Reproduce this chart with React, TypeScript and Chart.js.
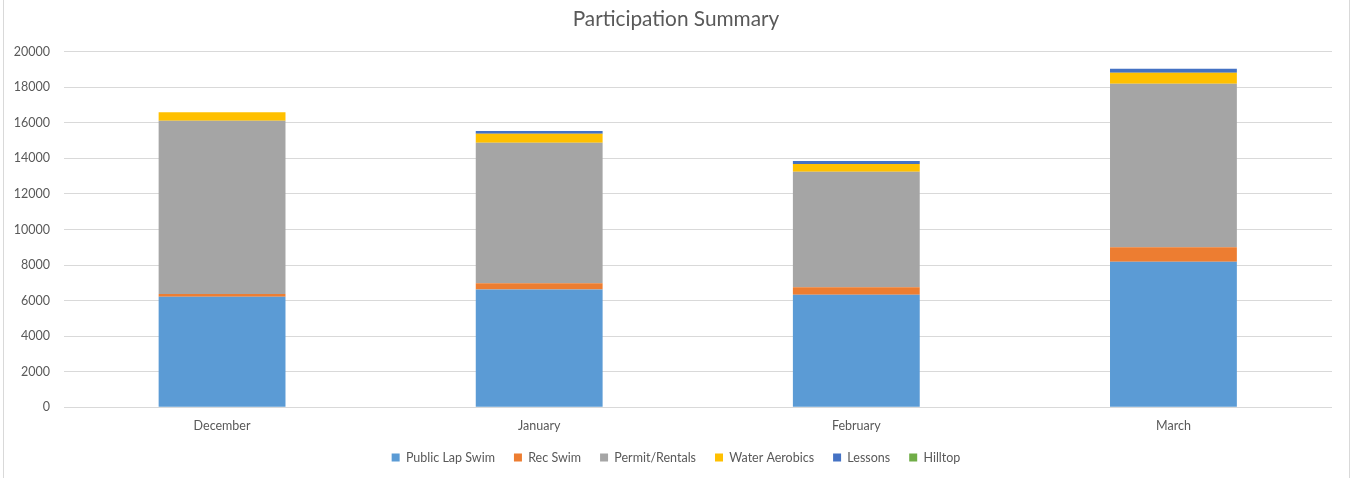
import React, { useEffect, useRef } from "react";
import { Chart, registerables } from "chart.js";

Chart.register(...registerables);

const months = ["December", "January", "February", "March"];
const publicLapSwim = [6220, 6630, 6330, 8190];
const recSwim = [150, 340, 420, 810];
const permitRentals = [9750, 7910, 6500, 9195];
const waterAerobics = [470, 505, 430, 620];
const lessons = [0, 150, 170, 220];
const hilltop = [0, 0, 0, 0];

const seriesNames = ["Public Lap Swim", "Rec Swim", "Permit/Rentals", "Water Aerobics", "Lessons", "Hilltop"];
const seriesValues = [publicLapSwim, recSwim, permitRentals, waterAerobics, lessons, hilltop];
const seriesColors = ["#5B9BD5", "#ED7D31", "#A5A5A5", "#FFC000", "#4472C4", "#70AD47"];

const TEXT = "#595959";
const FONT = "Lato, 'Open Sans', sans-serif";

const framePlugin = {
  id: "frame",
  beforeDraw(chart: any) {
    const ctx = chart.ctx;
    ctx.save();
    ctx.fillStyle = "#ffffff";
    ctx.fillRect(0, 0, chart.width, chart.height);
    ctx.strokeStyle = "#D9D9D9";
    ctx.lineWidth = 1;
    ctx.beginPath();
    ctx.moveTo(3.5, 0);
    ctx.lineTo(3.5, chart.height);
    ctx.moveTo(1349.5, 0);
    ctx.lineTo(1349.5, chart.height);
    ctx.stroke();
    ctx.restore();
  },
};

export default function App() {
  const ref = useRef<HTMLCanvasElement>(null);

  useEffect(() => {
    document.body.style.margin = "0";
    const canvas = ref.current!;
    const chart = new Chart(canvas, {
      type: "bar",
      data: {
        labels: months,
        datasets: seriesNames.map((name, i) => ({
          label: name,
          data: seriesValues[i],
          backgroundColor: seriesColors[i],
          borderWidth: 0,
          categoryPercentage: 1,
          barPercentage: 0.4,
          yAxisID: "y",
        })),
      },
      options: {
        responsive: false,
        animation: false,
        devicePixelRatio: 1,
        layout: { padding: { left: 0, right: 12, top: 0, bottom: 4.2 } },
        plugins: {
          title: {
            display: true,
            text: "Participation Summary",
            color: TEXT,
            font: { family: FONT, size: 20.8, weight: "normal" },
            padding: { top: 7, bottom: 19.74 },
          },
          legend: {
            position: "bottom",
            labels: {
              color: TEXT,
              font: { family: FONT, size: 12.5 },
              boxWidth: 8,
              boxHeight: 8,
              padding: 19,
            },
          },
          tooltip: { enabled: false },
        },
        scales: {
          x: {
            stacked: true,
            grid: { display: false, drawTicks: false },
            border: { display: false },
            ticks: {
              color: TEXT,
              font: { family: FONT, size: 12.5, lineHeight: 1 },
              padding: 12.45,
              maxRotation: 0,
            },
            afterFit: (scale: any) => {
              scale.height = 25;
            },
          },
          y: {
            stacked: true,
            position: "left",
            min: 0,
            max: 20000,
            grid: { color: "#D9D9D9", drawTicks: false },
            border: { display: false },
            ticks: {
              stepSize: 2000,
              color: TEXT,
              font: { family: FONT, size: 12.5 },
              padding: 13.5,
              callback: (v: any) => String(v),
            },
            afterFit: (scale: any) => {
              scale.width = 63.5;
            },
          },
          yRight: {
            position: "right",
            min: 0,
            max: 20000,
            grid: { display: false, drawTicks: false },
            border: { display: false },
            ticks: { display: false },
            afterFit: (scale: any) => {
              scale.width = 20;
            },
          },
        },
      },
      plugins: [framePlugin],
    });
    return () => chart.destroy();
  }, []);

  return (
    <div style={{ position: "fixed", left: 0, top: 0, width: 1364, height: 478, background: "#fff" }}>
      <canvas ref={ref} width={1364} height={478} style={{ display: "block", width: 1364, height: 478 }} />
    </div>
  );
}
